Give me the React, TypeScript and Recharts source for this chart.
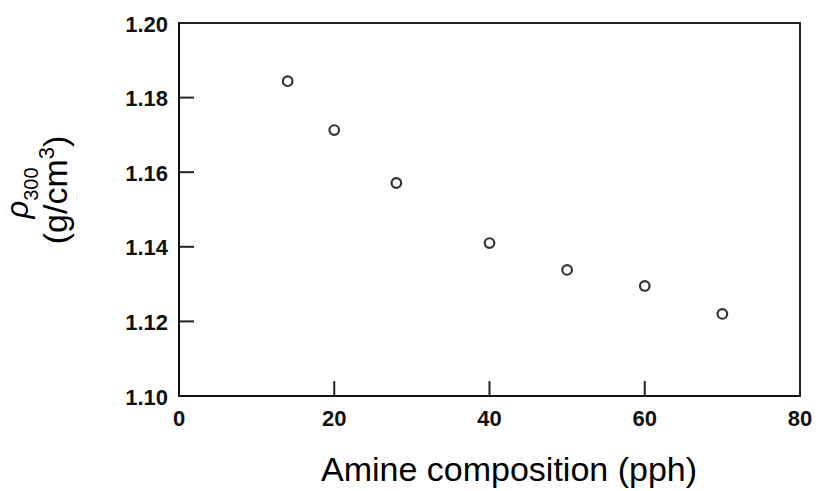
import { ScatterChart, Scatter, XAxis, YAxis, ReferenceArea } from 'recharts'

// amine composition (pph) vs density at 300 K (g/cm3)
const amine = [14, 20, 28, 40, 50, 60, 70]
const density = [1.1844, 1.1713, 1.1571, 1.141, 1.1338, 1.1295, 1.122]
const xTicks = [0, 20, 40, 60, 80]
const yTicks = [1.1, 1.12, 1.14, 1.16, 1.18, 1.2]

const points = amine.map((a, i) => ({ x: a, y: density[i] }))

const tickFont = { fontFamily: 'Liberation Sans, Arial, sans-serif', fontWeight: 700, fontSize: 22 }

function YTick({ x, y, payload }: any) {
  const v = payload.value
  const edge = v === 1.1 || v === 1.2
  return (
    <g>
      {!edge && <line x1={x} x2={x + 15} y1={y} y2={y} stroke="#222" strokeWidth={2} />}
      <text x={x - 11} y={y + 1} textAnchor="end" dominantBaseline="central" fill="#111" style={tickFont}>
        {v.toFixed(2)}
      </text>
    </g>
  )
}

function XTick({ x, y, payload }: any) {
  const v = payload.value
  const edge = v === 0 || v === 80
  return (
    <g>
      {!edge && <line x1={x} x2={x} y1={y} y2={y - 15} stroke="#222" strokeWidth={2} />}
      <text x={x} y={y + 30} textAnchor="middle" fill="#111" style={tickFont}>
        {v}
      </text>
    </g>
  )
}

function Ring({ cx, cy }: any) {
  return <circle cx={cx} cy={cy} r={4.8} fill="#fff" stroke="#333" strokeWidth={2.2} />
}

const labelFont = { fontFamily: 'Liberation Sans, Arial, sans-serif', fill: '#000' }

function YLabel() {
  return (
    <g>
      <text transform="translate(28,193) rotate(-90)" textAnchor="middle" style={labelFont}>
        <tspan fontStyle="italic" fontSize={31}>ρ</tspan>
        <tspan fontSize={20} dy={10}>300</tspan>
      </text>
      <text transform="translate(67,190) rotate(-90)" textAnchor="middle" style={labelFont} fontSize={34}>
        <tspan>(g/cm</tspan>
        <tspan fontSize={22} dy={-13}>3</tspan>
        <tspan dy={13}>)</tspan>
      </text>
    </g>
  )
}

function XLabel() {
  return (
    <text x={509} y={481} textAnchor="middle" style={labelFont} fontSize={34}>
      Amine composition (pph)
    </text>
  )
}

export default function App() {
  return (
    <div style={{ position: 'absolute', left: 0, top: 0, width: 820, height: 491, background: '#fff' }}>
      <ScatterChart width={820} height={491} margin={{ top: 23, right: 20, bottom: 0, left: 0 }}>
        <XAxis
          type="number"
          dataKey="x"
          domain={[0, 80]}
          ticks={xTicks}
          height={95}
          tickSize={0}
          tickMargin={0}
          tickLine={false}
          axisLine={{ stroke: '#111', strokeWidth: 2 }}
          tick={<XTick />}
          label={{ content: () => <XLabel /> }}
        />
        <YAxis
          type="number"
          dataKey="y"
          domain={[1.1, 1.2]}
          ticks={yTicks}
          width={179}
          tickSize={0}
          tickMargin={0}
          tickLine={false}
          axisLine={{ stroke: '#111', strokeWidth: 2 }}
          tick={<YTick />}
          label={{ content: () => <YLabel /> }}
        />
        <ReferenceArea x1={0} x2={80} y1={1.1} y2={1.2} fill="none" stroke="#222" strokeWidth={2} />
        <Scatter data={points} shape={<Ring />} isAnimationActive={false} />
      </ScatterChart>
    </div>
  )
}
